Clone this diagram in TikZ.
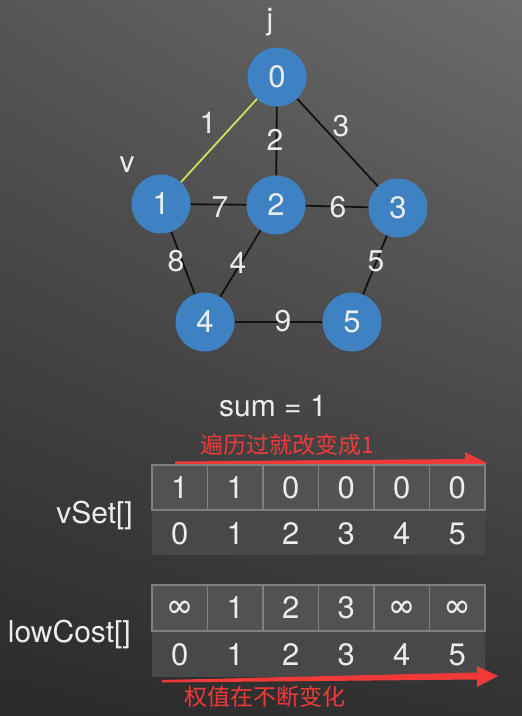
\documentclass[tikz,border=0pt]{standalone}
\usepackage{fontspec}
\setmainfont{TeX Gyre Heros}
\newfontfamily\cjk{Noto Sans CJK SC}
\usetikzlibrary{shadings}
\definecolor{nodeblue}{RGB}{62,130,195}
\definecolor{txt}{RGB}{236,236,236}
\definecolor{edgec}{RGB}{18,18,18}
\definecolor{yel}{RGB}{210,222,90}
\definecolor{redc}{RGB}{240,58,58}
\definecolor{cellfill}{RGB}{82,82,82}
\definecolor{cellline}{RGB}{128,128,128}
\definecolor{idxfill}{RGB}{72,72,72}
\definecolor{bgUL}{RGB}{86,86,86}
\definecolor{bgUR}{RGB}{108,108,108}
\definecolor{bgLL}{RGB}{42,42,42}
\definecolor{bgLR}{RGB}{50,50,50}
\begin{document}
\begin{tikzpicture}[x=1pt,y=-1pt,
  vert/.style={circle,fill=nodeblue,minimum size=59pt,inner sep=0pt,text=txt,font=\fontsize{31}{36}\selectfont},
  elabel/.style={text=txt,inner sep=0pt,font=\fontsize{30}{34}\selectfont},
  tlabel/.style={text=txt,inner sep=0pt,font=\fontsize{30}{34}\selectfont},
  edge/.style={draw=edgec,line width=1.8pt},
  cellbox/.style={draw=cellline,fill=cellfill,line width=1.2pt,minimum width=55.5pt,minimum height=45pt,inner sep=0pt,text=txt,font=\fontsize{31}{36}\selectfont},
  idx/.style={inner sep=0pt,text=txt,font=\fontsize{31}{36}\selectfont},
  redtxt/.style={text=redc,inner sep=0pt,font=\cjk\fontsize{23}{27}\selectfont},
  redarrow/.style={fill=redc,draw=none}]
\useasboundingbox (0,0) rectangle (522,716);
\shade[upper left=bgUL,upper right=bgUR,lower left=bgLL,lower right=bgLR] (0,0) rectangle (522,716);
% graph nodes
\node[vert] (n0) at (277,77) {0};
\node[vert] (n1) at (161,204) {1};
\node[vert] (n2) at (276,205) {2};
\node[vert] (n3) at (398,208) {3};
\node[vert] (n4) at (205,322) {4};
\node[vert] (n5) at (352,322) {5};
% edges
\draw[line width=1.8pt,draw=yel] (n0) -- (n1);
\draw[edge] (n0) -- (n2);
\draw[edge] (n0) -- (n3);
\draw[edge] (n1) -- (n2);
\draw[edge] (n2) -- (n3);
\draw[edge] (n1) -- (n4);
\draw[edge] (n2) -- (n4);
\draw[edge] (n3) -- (n5);
\draw[edge] (n4) -- (n5);
% edge weights
\node[elabel] (w1) at (208,123) {1};
\node[elabel] (w2) at (275,140) {2};
\node[elabel] (w3) at (341,126) {3};
\node[elabel] (w7) at (220,207) {7};
\node[elabel] (w6) at (338,207) {6};
\node[elabel] (w8) at (176,261) {8};
\node[elabel] (w4) at (238,263) {4};
\node[elabel] (w5) at (376,261) {5};
\node[elabel] (w9) at (283,321) {9};
% vertex labels
\node[tlabel,anchor=base] (lj) at (270,29) {j};
\node[tlabel,anchor=base] (lv) at (127,172) {v};
% sum
\node[tlabel,anchor=base] (sum) at (273,416) {sum = 1};
% red annotation 1
\node[redtxt] (r1) at (287,445) {遍历过就改变成1};
\fill[redarrow] (175,461.5) -- (465,459) -- (465,452) -- (487,463) -- (465,474) -- (465,467) -- (175,464) -- cycle;
% vSet table
\fill[idxfill] (152,510) rectangle (485,555);
\foreach \v [count=\i from 0] in {1,1,0,0,0,0}{
  \node[cellbox] (vs\i) at (179.75+55.5*\i,487.5) {\v};
  \node[idx] (vi\i) at (179.75+55.5*\i,534) {\i};
}
\node[tlabel,anchor=base east] (vlab) at (133,523) {vSet[]};
% lowCost table
\fill[idxfill] (152,631) rectangle (485,677);
\foreach \v [count=\i from 0] in {∞,1,2,3,∞,∞}{
  \node[cellbox,minimum height=46pt] (lc\i) at (179.75+55.5*\i,608) {\v};
  \node[idx] (li\i) at (179.75+55.5*\i,655) {\i};
}
\node[tlabel,anchor=base east] (llab) at (131,642) {lowCost[]};
% red annotation 2
\fill[redarrow] (162,680) -- (477,672.5) -- (477,666) -- (498,676) -- (477,687) -- (477,679.5) -- (162,682.5) -- cycle;
\node[redtxt] (r2) at (265,697) {权值在不断变化};
\end{tikzpicture}
\end{document}
